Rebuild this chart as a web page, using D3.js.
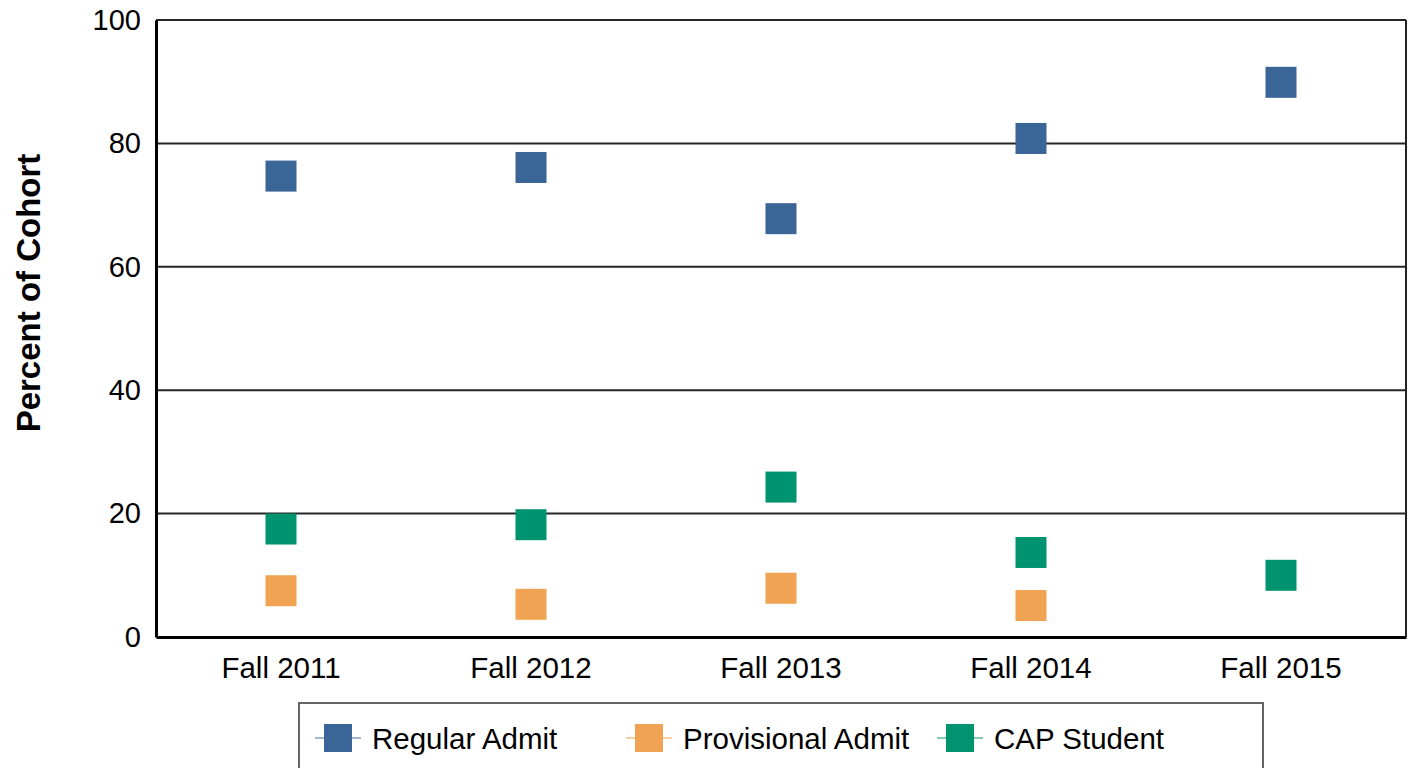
<!DOCTYPE html>
<html>
<head>
<meta charset="utf-8">
<script src="https://cdn.jsdelivr.net/npm/d3@7"></script>
<style>
  body { margin: 0; background: #fff; }
  svg { display: block; font-family: "Liberation Sans", Arial, sans-serif; }
</style>
</head>
<body>
<svg id="chart" width="1408" height="768"></svg>
<script>
// data
var cohorts = ["Fall 2011", "Fall 2012", "Fall 2013", "Fall 2014", "Fall 2015"];
var regularAdmit = [74.7, 76.1, 67.8, 80.8, 89.9];
var provisionalAdmit = [7.5, 5.3, 7.9, 5.1, null];
var capStudent = [17.5, 18.2, 24.3, 13.7, 10.0];
var yTicks = [0, 20, 40, 60, 80, 100];

var series = [
  {name: "Regular Admit", values: regularAdmit, color: "#3a6597", light: "#a3b6d2"},
  {name: "Provisional Admit", values: provisionalAdmit, color: "#f0a353", light: "#f8d0a4"},
  {name: "CAP Student", values: capStudent, color: "#009370", light: "#80c9b5"}
];

var svg = d3.select("#chart");
var plotLeft = 156, plotRight = 1406, plotTop = 20, plotBottom = 637;

var x = d3.scaleBand().domain(cohorts).range([plotLeft, plotRight]);
var y = d3.scaleLinear().domain([0, 100]).range([plotBottom, plotTop]);

// grid lines
svg.append("g")
   .selectAll("line")
   .data(yTicks.filter(function(d){ return d > 0; }))
   .enter().append("line")
   .attr("x1", plotLeft).attr("x2", plotRight)
   .attr("y1", function(d){ return y(d); })
   .attr("y2", function(d){ return y(d); })
   .attr("stroke", "#262626")
   .attr("stroke-width", 2);

// right border
svg.append("line")
   .attr("x1", plotRight).attr("x2", plotRight)
   .attr("y1", plotTop).attr("y2", plotBottom)
   .attr("stroke", "#222").attr("stroke-width", 2);

// y axis
var yAxis = svg.append("g")
   .attr("transform", "translate(" + plotLeft + ",0)")
   .call(d3.axisLeft(y).tickValues(yTicks).tickSize(0).tickPadding(15));
yAxis.select(".domain").attr("stroke", "#000").attr("stroke-width", 3);
yAxis.selectAll("text").attr("font-size", "29px").attr("fill", "#000")
     .attr("font-family", "Liberation Sans, Arial, sans-serif");

// x axis
var xAxis = svg.append("g")
   .attr("transform", "translate(0," + plotBottom + ")")
   .call(d3.axisBottom(x).tickSize(0).tickPadding(20));
xAxis.select(".domain").attr("stroke", "#000").attr("stroke-width", 3);
xAxis.selectAll("text").attr("font-size", "29.5px").attr("fill", "#000")
     .attr("font-family", "Liberation Sans, Arial, sans-serif");

// y title
svg.append("text")
   .attr("transform", "translate(40,293) rotate(-90)")
   .attr("text-anchor", "middle")
   .attr("font-family", "Liberation Sans, Arial, sans-serif")
   .attr("font-size", "33px")
   .attr("font-weight", "bold")
   .text("Percent of Cohort");

// markers
var size = 31;
series.forEach(function(s){
  svg.append("g")
     .selectAll("rect")
     .data(s.values.map(function(v, i){ return {cohort: cohorts[i], value: v}; })
                   .filter(function(d){ return d.value != null; }))
     .enter().append("rect")
     .attr("x", function(d){ return x(d.cohort) + x.bandwidth()/2 - size/2; })
     .attr("y", function(d){ return y(d.value) - size/2; })
     .attr("width", size).attr("height", size)
     .attr("fill", s.color);
});

// legend
var legend = svg.append("g");
legend.append("rect")
      .attr("x", 299).attr("y", 703)
      .attr("width", 964).attr("height", 80)
      .attr("fill", "none")
      .attr("stroke", "#666").attr("stroke-width", 2);

var legendX = [338, 649, 960];
var items = legend.selectAll(".item")
      .data(series).enter()
      .append("g")
      .attr("class", "item")
      .attr("transform", function(d, i){ return "translate(" + legendX[i] + ",738)"; });

items.append("line")
     .attr("x1", -23).attr("x2", 23)
     .attr("stroke", function(d){ return d.light; })
     .attr("stroke-width", 2);
items.append("rect")
     .attr("x", -14).attr("y", -14)
     .attr("width", 28).attr("height", 28)
     .attr("fill", function(d){ return d.color; });
items.append("text")
     .attr("x", 34).attr("y", 11)
     .attr("font-size", "29.5px")
     .attr("fill", "#000")
     .text(function(d){ return d.name; });
</script>
</body>
</html>
